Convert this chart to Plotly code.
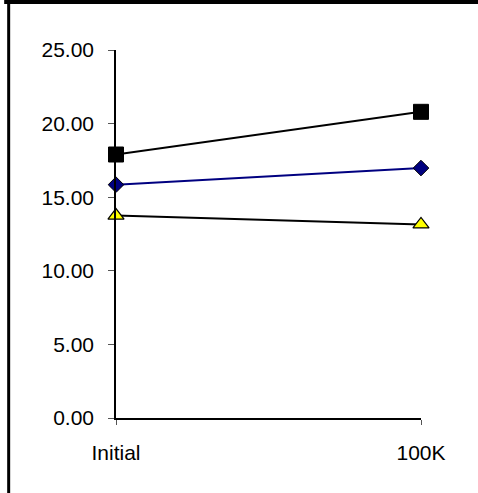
import plotly.graph_objects as go

categories = ["Initial", "100K"]
series_square = [17.9, 20.8]
series_diamond = [15.85, 16.98]
series_triangle = [13.75, 13.15]
y_ticks = [0, 5, 10, 15, 20, 25]
y_tick_labels = ["0.00", "5.00", "10.00", "15.00", "20.00", "25.00"]

W, H = 478, 493
L, R, T, B = 116, 56.5, 49.5, 75
pw = W - L - R
ph = H - T - B

fig = go.Figure()
fig.add_trace(go.Scatter(
    x=categories, y=series_square, mode="lines+markers", cliponaxis=False,
    line=dict(color="black", width=2),
    marker=dict(symbol="square", size=15, color="black", line=dict(color="black", width=1)),
))
fig.add_trace(go.Scatter(
    x=categories, y=series_diamond, mode="lines+markers", cliponaxis=False,
    line=dict(color="#000080", width=2),
    marker=dict(symbol="diamond", size=12, color="#000080", line=dict(color="black", width=1)),
))
fig.add_trace(go.Scatter(
    x=categories, y=series_triangle, mode="lines+markers", cliponaxis=False,
    line=dict(color="black", width=2),
    marker=dict(symbol="triangle-up", size=14, color="#FFFF00", line=dict(color="black", width=1.2)),
))

def px_x(x):
    return (x - L) / pw

def px_y(y):
    return (H - B - y) / ph

fig.update_layout(
    width=W, height=H,
    margin=dict(l=L, r=R, t=T, b=B, pad=0),
    paper_bgcolor="white", plot_bgcolor="white",
    showlegend=False,
    font=dict(family="Liberation Sans, Arial, sans-serif", size=21, color="black"),
    xaxis=dict(
        type="category", range=[0, 1], showgrid=False, zeroline=False,
        showline=True, linecolor="black", linewidth=1.5,
        ticks="outside", ticklen=5, tickcolor="#555555", tickwidth=1,
        ticklabelstandoff=10, tickfont=dict(size=21),
    ),
    yaxis=dict(
        range=[0, 25], showgrid=False, zeroline=False,
        showline=True, linecolor="black", linewidth=1.5,
        ticks="outside", ticklen=6, tickcolor="#555555", tickwidth=1,
        tickvals=y_ticks, ticktext=y_tick_labels,
        ticklabelstandoff=10, tickfont=dict(size=21),
    ),
    shapes=[
        dict(type="rect", xref="paper", yref="paper",
             x0=px_x(4), x1=px_x(490), y0=px_y(-2), y1=px_y(3.5),
             fillcolor="black", line=dict(width=0), layer="above"),
        dict(type="rect", xref="paper", yref="paper",
             x0=px_x(7), x1=px_x(10), y0=px_y(0), y1=px_y(500),
             fillcolor="black", line=dict(width=0), layer="above"),
    ],
)

fig.write_html("out.html", config={"displayModeBar": False},
               post_script="document.body.style.margin='0';document.body.style.overflow='hidden';")
